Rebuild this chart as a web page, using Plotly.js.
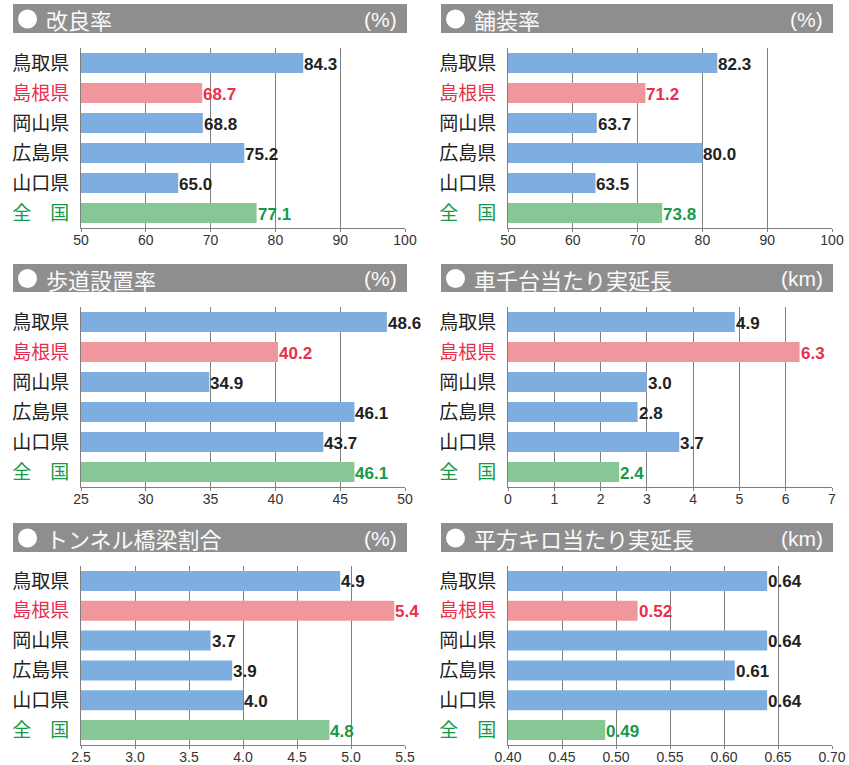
<!DOCTYPE html>
<html>
<head>
<meta charset="utf-8">
<script src="https://cdn.plot.ly/plotly-3.0.1.min.js"></script>
<style>html,body{margin:0;padding:0;background:#fff;}#chart{width:849px;height:765px;}</style>
</head>
<body>
<div id="chart"></div>
<script>
// ---- data ----
const prefectures = ['鳥取県', '島根県', '岡山県', '広島県', '山口県', '全　国'];
const kairyoRate = [84.3, 68.7, 68.8, 75.2, 65.0, 77.1];        // 改良率 (%)
const hosoRate = [82.3, 71.2, 63.7, 80.0, 63.5, 73.8];          // 舗装率 (%)
const hodoRate = [48.6, 40.2, 34.9, 46.1, 43.7, 46.1];          // 歩道設置率 (%)
const perThousandCars = [4.9, 6.3, 3.0, 2.8, 3.7, 2.4];         // 車千台当たり実延長 (km)
const tunnelBridgeRate = [4.9, 5.4, 3.7, 3.9, 4.0, 4.8];        // トンネル橋梁割合 (%)
const perSquareKm = [0.64, 0.52, 0.64, 0.61, 0.64, 0.49];       // 平方キロ当たり実延長 (km)
const panelTitles = ['改良率', '舗装率', '歩道設置率', '車千台当たり実延長', 'トンネル橋梁割合', '平方キロ当たり実延長'];
const panelUnits = ['(%)', '(%)', '(%)', '(km)', '(%)', '(km)'];

// ---- styling / layout ----
const W = 849, H = 765;
const fx = x => x / W;
const fy = y => 1 - y / H;
const seriesList = [kairyoRate, hosoRate, hodoRate, perThousandCars, tunnelBridgeRate, perSquareKm];
const axisCfg = [
  {range: [50, 100], dtick: 10, fmt: 'd', dec: 1},
  {range: [50, 100], dtick: 10, fmt: 'd', dec: 1},
  {range: [25, 50], dtick: 5, fmt: 'd', dec: 1},
  {range: [0, 7], dtick: 1, fmt: 'd', dec: 1},
  {range: [2.5, 5.5], dtick: 0.5, fmt: '.1f', dec: 1},
  {range: [0.40, 0.70], dtick: 0.05, fmt: '.2f', dec: 2}
];
const colX = [[81, 405], [508, 832]];
const headX = [[13, 407], [441, 833]];
const rowY = [[48, 228], [307, 487], [566, 745]];
const headY = [[4, 33], [264, 292], [523, 552]];

const barColors = ['#7eade0', '#f0979d', '#7eade0', '#7eade0', '#7eade0', '#87c795'];
const textColors = ['#222222', '#e8304c', '#222222', '#222222', '#222222', '#169a48'];
const tickText = prefectures.map((p, i) => `<span style="color:${textColors[i]}">${p}</span>`);

const data = [];
const layout = {
  width: W, height: H,
  margin: {l: 0, r: 0, t: 0, b: 0},
  paper_bgcolor: '#fff', plot_bgcolor: '#fff',
  showlegend: false,
  bargap: 0.33,
  font: {family: 'Noto Sans CJK JP, sans-serif', color: '#222'},
  shapes: [], annotations: []
};

seriesList.forEach((vals, k) => {
  const col = k % 2, row = Math.floor(k / 2);
  const n = k + 1;
  const xa = 'x' + (n === 1 ? '' : n), ya = 'y' + (n === 1 ? '' : n);
  const cfg = axisCfg[k];
  data.push({
    type: 'bar', orientation: 'h',
    x: vals, y: prefectures,
    xaxis: xa, yaxis: ya,
    marker: {color: barColors, line: {width: 0}},
    hoverinfo: 'x+y'
  });
  layout['xaxis' + (n === 1 ? '' : n)] = {
    domain: [fx(colX[col][0]), fx(colX[col][1])],
    anchor: ya, range: cfg.range, dtick: cfg.dtick, tick0: cfg.range[0],
    tickformat: cfg.fmt,
    showgrid: true, gridcolor: '#808080', gridwidth: 1,
    showline: true, linecolor: '#808080', linewidth: 1,
    ticks: 'outside', ticklen: 3, tickcolor: '#808080',
    ticklabelstandoff: -4,
    zeroline: false, fixedrange: true,
    tickfont: {family: 'Liberation Sans, Arial, sans-serif', size: 14, color: '#333'}
  };
  layout['yaxis' + (n === 1 ? '' : n)] = {
    domain: [fy(rowY[row][1]), fy(rowY[row][0])],
    anchor: xa, type: 'category',
    categoryorder: 'array', categoryarray: prefectures,
    range: [5.5, -0.5],
    tickvals: prefectures, ticktext: tickText,
    showgrid: false, showline: true, linecolor: '#808080', linewidth: 1,
    ticks: '', ticklabelstandoff: 7, fixedrange: true,
    tickfont: {family: 'Noto Sans CJK JP, sans-serif', size: 19, color: '#222'}
  };
  // header bar
  layout.shapes.push({
    type: 'rect', xref: 'paper', yref: 'paper',
    x0: fx(headX[col][0]), x1: fx(headX[col][1]),
    y0: fy(headY[row][1]), y1: fy(headY[row][0]),
    fillcolor: '#8e8e8e', line: {width: 0}, layer: 'below'
  });
  const cy = (headY[row][0] + headY[row][1]) / 2 + 0.5;
  layout.shapes.push({
    type: 'circle', xref: 'paper', yref: 'paper',
    x0: fx(headX[col][0] + 5), x1: fx(headX[col][0] + 24),
    y0: fy(cy + 9.5), y1: fy(cy - 9.5),
    fillcolor: '#ffffff', line: {width: 0}
  });
  layout.annotations.push({
    xref: 'paper', yref: 'paper', x: fx(headX[col][0] + 30), y: fy(cy),
    xanchor: 'left', yanchor: 'middle', showarrow: false, xshift: 1,
    text: panelTitles[k],
    font: {family: 'Noto Sans CJK JP, sans-serif', size: 22, color: '#fafafa'}
  });
  layout.annotations.push({
    xref: 'paper', yref: 'paper', x: fx(headX[col][1] - 8), y: fy(cy),
    xanchor: 'right', yanchor: 'middle', showarrow: false,
    text: panelUnits[k],
    font: {family: 'Liberation Sans, Arial, sans-serif', size: 21, color: '#fafafa'}
  });
  // value labels
  vals.forEach((v, i) => {
    layout.annotations.push({
      xref: xa, yref: ya, x: v, y: prefectures[i],
      xanchor: 'left', yanchor: 'middle', showarrow: false, xshift: -1, yshift: -1,
      text: v.toFixed(cfg.dec),
      font: {family: 'Liberation Sans, Arial, sans-serif', size: 17, weight: 'bold', color: textColors[i]}
    });
  });
});

Plotly.newPlot('chart', data, layout, {displayModeBar: false, staticPlot: true});
</script>
</body>
</html>
